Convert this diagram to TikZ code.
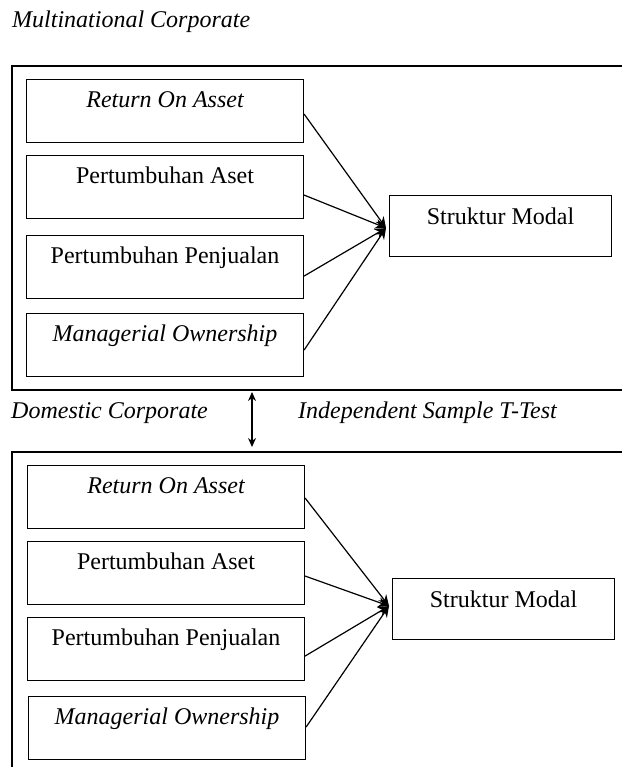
\documentclass[tikz,border=0pt]{standalone}
\usepackage{fontspec}
\setmainfont{Liberation Serif}
\usetikzlibrary{arrows.meta,calc}
\begin{document}
\begin{tikzpicture}[x=1pt,y=-1pt,
  frameline/.style={line width=1.2pt},
  varbox/.style={draw,line width=1.1pt,inner sep=0pt,minimum width=277pt,
    text height=28pt,text depth=35pt,font=\fontsize{24}{27}\selectfont,anchor=north west},
  depbox/.style={draw,line width=1.1pt,inner sep=0pt,minimum width=222pt,
    text height=29pt,text depth=32pt,font=\fontsize{24}{27}\selectfont,anchor=north west},
  lbl/.style={inner sep=0pt,anchor=west,font=\fontsize{24}{27}\selectfont\itshape},
  conn/.style={line width=1.2pt,-{Stealth[length=11pt,width=10pt]}},
  dbl/.style={line width=1.3pt,{Stealth[length=9pt,width=8pt]}-{Stealth[length=9pt,width=8pt]}}
]
\useasboundingbox (0,0) rectangle (622,767);

% labels
\node[lbl] (mnc) at (12,22) {Multinational Corporate};
\node[lbl] (dom) at (11,413) {Domestic Corporate};
\node[lbl] (itest) at (298,413) {Independent Sample T-Test};

% frames
\draw[frameline] (622,66) -- (12,66) -- (12,390) -- (622,390);
\draw[frameline] (622,452) -- (12,452) -- (12,767);

% top group
\node[varbox] (roa1) at (26,79) {\itshape Return On Asset};
\node[varbox] (aset1) at (26,155) {Pertumbuhan Aset};
\node[varbox] (pen1) at (26,235) {Pertumbuhan Penjualan};
\node[varbox] (man1) at (26,313) {\itshape Managerial Ownership};
\node[depbox] (sm1) at (389,195) {Struktur Modal};
\coordinate (tip1) at (386,228);
\draw[conn] ($(roa1.east)+(0,3)$) -- (tip1);
\draw[conn] ($(aset1.east)+(0,8)$) -- (tip1);
\draw[conn] ($(pen1.east)+(0,9)$) -- (tip1);
\draw[conn] ($(man1.east)+(0,5)$) -- (tip1);

% double arrow
\coordinate (da1) at (252,392);
\coordinate (da2) at (252,447);
\draw[dbl] (da1) -- (da2);

% bottom group
\node[varbox] (roa2) at (27,465) {\itshape Return On Asset};
\node[varbox] (aset2) at (27,541) {Pertumbuhan Aset};
\node[varbox] (pen2) at (27,617) {Pertumbuhan Penjualan};
\node[varbox] (man2) at (28,696) {\itshape Managerial Ownership};
\node[depbox] (sm2) at (392,578) {Struktur Modal};
\coordinate (tip2) at (389,606);
\draw[conn] ($(roa2.east)+(0,1)$) -- (tip2);
\draw[conn] ($(aset2.east)+(0,3)$) -- (tip2);
\draw[conn] ($(pen2.east)+(0,7)$) -- (tip2);
\draw[conn] ($(man2.east)+(0,-1)$) -- (tip2);
\end{tikzpicture}
\end{document}
